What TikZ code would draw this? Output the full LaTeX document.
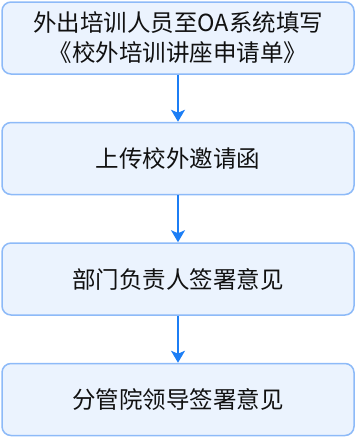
\documentclass[tikz,border=0pt]{standalone}
\usepackage{fontspec}
\setmainfont{Noto Sans CJK SC}
\usepackage{xcolor}
\usepackage{tikz}
\usetikzlibrary{
  arrows.meta,
  positioning
}
\definecolor{FlowFill}{HTML}{EBF3FE}
\definecolor{FlowEdge}{HTML}{8DBAF8}
\definecolor{FlowArrow}{HTML}{1C7EF5}
\definecolor{FlowText}{HTML}{111111}

\begin{document}
\begin{tikzpicture}[
    flowbox/.style={draw=FlowEdge,fill=FlowFill,line width=1.5pt,rounded corners=9pt,
      minimum width=352pt,minimum height=72pt,align=center,text=FlowText,
      font=\fontsize{23.5}{30}\selectfont},
    flowarrow/.style={draw=FlowArrow,line width=1.5pt,
      -{Stealth[length=12pt,width=14pt,inset=3pt]}},
    node distance=47pt
  ]
  \useasboundingbox (0,0) rectangle (356pt,-437pt);
  \node[flowbox] (apply) at (178pt,-38pt) {外出培训人员至OA系统填写\\《校外培训讲座申请单》};
  \node[flowbox,below=of apply] (invite) {上传校外邀请函};
  \node[flowbox,below=of invite] (dept) {部门负责人签署意见};
  \node[flowbox,below=of dept] (leader) {分管院领导签署意见};
  % arrows between steps
  \draw[flowarrow] (apply) -- (invite);
  \draw[flowarrow] (invite) -- (dept);
  \draw[flowarrow] (dept) -- (leader);
\end{tikzpicture}
\end{document}
